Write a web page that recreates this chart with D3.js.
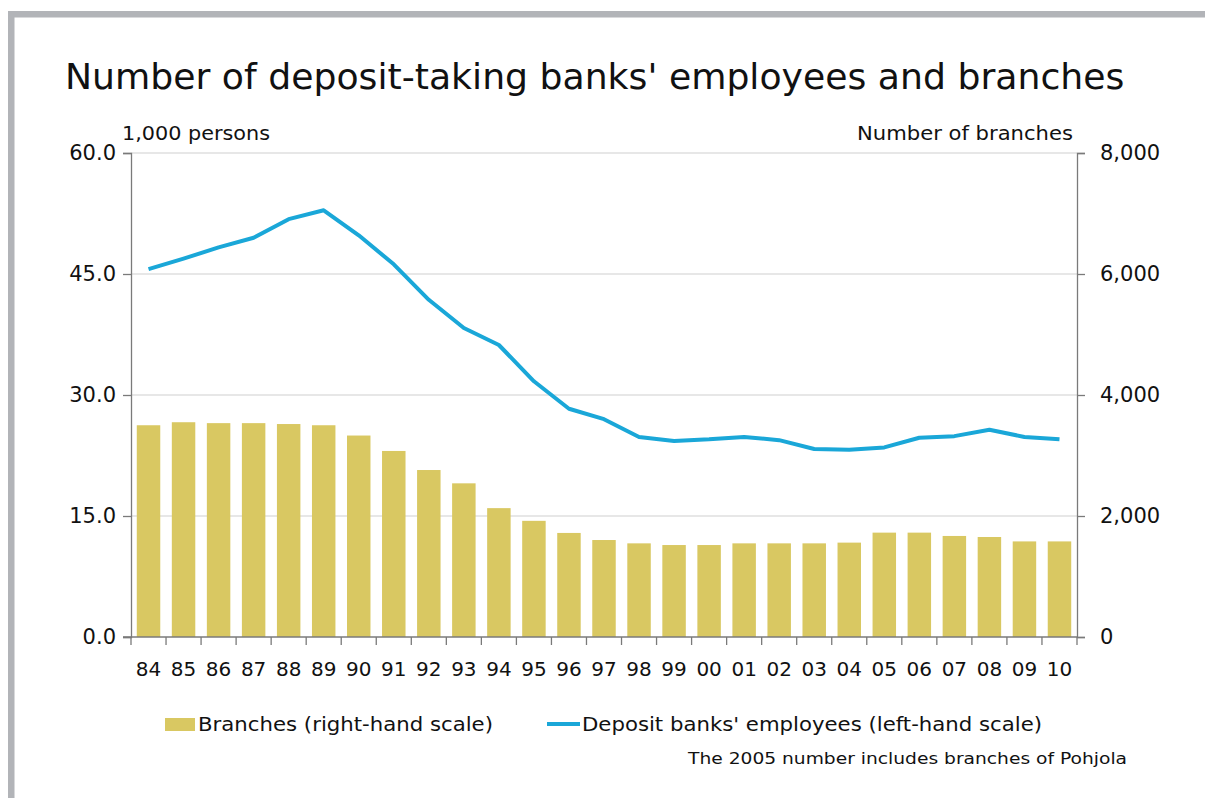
<!DOCTYPE html>
<html><head><meta charset="utf-8">
<script src="https://cdn.jsdelivr.net/npm/d3@7"></script>
<style>
body{margin:0;background:#fff;}
svg{display:block;}
text{font-family:"DejaVu Sans",Verdana,sans-serif;fill:#111;}
</style></head><body>
<svg id="c" width="1205" height="798"></svg>
<script>
const years = ["84","85","86","87","88","89","90","91","92","93","94","95","96","97","98","99","00","01","02","03","04","05","06","07","08","09","10"];
const branches = [3500,3550,3535,3535,3520,3500,3330,3075,2760,2540,2130,1920,1720,1603,1548,1520,1520,1548,1548,1548,1560,1725,1725,1670,1653,1580,1580];
const employees = [45.6,46.9,48.3,49.5,51.8,52.9,49.8,46.2,41.8,38.3,36.2,31.7,28.3,27.0,24.8,24.3,24.5,24.8,24.4,23.3,23.2,23.5,24.7,24.9,25.7,24.8,24.5];
const leftTicks = [0,15,30,45,60];
const rightTicks = [0,2000,4000,6000,8000];

const svg = d3.select("#c");
// frame
svg.append("rect").attr("x",11.25).attr("y",14.25).attr("width",1205).attr("height",800)
  .attr("fill","none").attr("stroke","#b2b4b8").attr("stroke-width",6.5);

const L=131, R=1077, T=153, B=637;
const x = d3.scaleBand().domain(years).range([L,R]).paddingInner(0.33).paddingOuter(0.165);
const xb = d3.scaleBand().domain(years).range([L,R]);
const yL = d3.scaleLinear().domain([0,60]).range([B,T]);
const yR = d3.scaleLinear().domain([0,8000]).range([B,T]);

function fitText(sel, len){ sel.attr("textLength",len).attr("lengthAdjust","spacingAndGlyphs"); return sel; }

// title: size chosen so its natural width matches the reference span
const title = svg.append("text").attr("x",65).attr("y",89).attr("font-size",40)
  .attr("font-family",'"DejaVu Sans Condensed","DejaVu Sans",sans-serif')
  .text("Number of deposit-taking banks' employees and branches");
const tw = title.node().getComputedTextLength();
title.attr("font-size", Math.min(40, 40*1060/tw));

fitText(svg.append("text").attr("x",122).attr("y",140).attr("font-size",19).text("1,000 persons"),148);
fitText(svg.append("text").attr("x",857).attr("y",140).attr("font-size",19).text("Number of branches"),216);

// gridlines
svg.append("g").selectAll("line").data(leftTicks.filter(d=>d>0)).join("line")
  .attr("x1",L).attr("x2",R).attr("y1",d=>yL(d)).attr("y2",d=>yL(d))
  .attr("stroke","#cfcfcf").attr("stroke-width",1.2);

// bars
svg.append("g").selectAll("rect").data(years).join("rect")
  .attr("x",d=>x(d)).attr("width",x.bandwidth())
  .attr("y",(d,i)=>yR(branches[i])).attr("height",(d,i)=>B-yR(branches[i]))
  .attr("fill","#d9c862");

// line
const line = d3.line().x((d,i)=>xb(years[i])+xb.bandwidth()/2).y(d=>yL(d));
svg.append("path").datum(employees).attr("d",line).attr("fill","none")
  .attr("stroke","#1aa7d8").attr("stroke-width",4).attr("stroke-linejoin","round");

// axes
const axisColor="#7a7a7a";
const gl = svg.append("g").attr("transform",`translate(${L},0)`)
  .call(d3.axisLeft(yL).tickValues(leftTicks).tickFormat(d3.format(".1f")).tickSize(8).tickPadding(7));
const gr = svg.append("g").attr("transform",`translate(${R},0)`)
  .call(d3.axisRight(yR).tickValues(rightTicks).tickFormat(d3.format(",")).tickSize(8).tickPadding(15));
[gl,gr].forEach(g=>{
  g.select(".domain").attr("stroke",axisColor).attr("stroke-width",1.3);
  g.selectAll(".tick line").attr("stroke",axisColor).attr("stroke-width",1.3);
  g.selectAll(".tick text").attr("font-size",21).attr("fill","#111")
   .attr("font-family",'"DejaVu Sans",Verdana,sans-serif');
});
// x axis
svg.append("line").attr("x1",L-8).attr("x2",R).attr("y1",B).attr("y2",B).attr("stroke",axisColor).attr("stroke-width",1.3);
const bounds = years.map(d=>xb(d)).concat([R]);
svg.append("g").selectAll("line").data(bounds).join("line")
  .attr("x1",d=>d).attr("x2",d=>d).attr("y1",B).attr("y2",B+8)
  .attr("stroke",axisColor).attr("stroke-width",1.3);
svg.append("g").selectAll("text").data(years).join("text")
  .attr("x",d=>xb(d)+xb.bandwidth()/2).attr("y",B+39).attr("text-anchor","middle")
  .attr("font-size",20).text(d=>d);

// legend
svg.append("rect").attr("x",165).attr("y",718).attr("width",30).attr("height",13).attr("fill","#d9c862");
fitText(svg.append("text").attr("x",198).attr("y",731).attr("font-size",19).text("Branches (right-hand scale)"),295);
svg.append("line").attr("x1",547).attr("x2",580).attr("y1",724).attr("y2",724).attr("stroke","#1aa7d8").attr("stroke-width",4);
fitText(svg.append("text").attr("x",582).attr("y",731).attr("font-size",19).text("Deposit banks' employees (left-hand scale)"),460);
fitText(svg.append("text").attr("x",688).attr("y",764).attr("font-size",16).text("The 2005 number includes branches of Pohjola"),439);
</script>
</body></html>
